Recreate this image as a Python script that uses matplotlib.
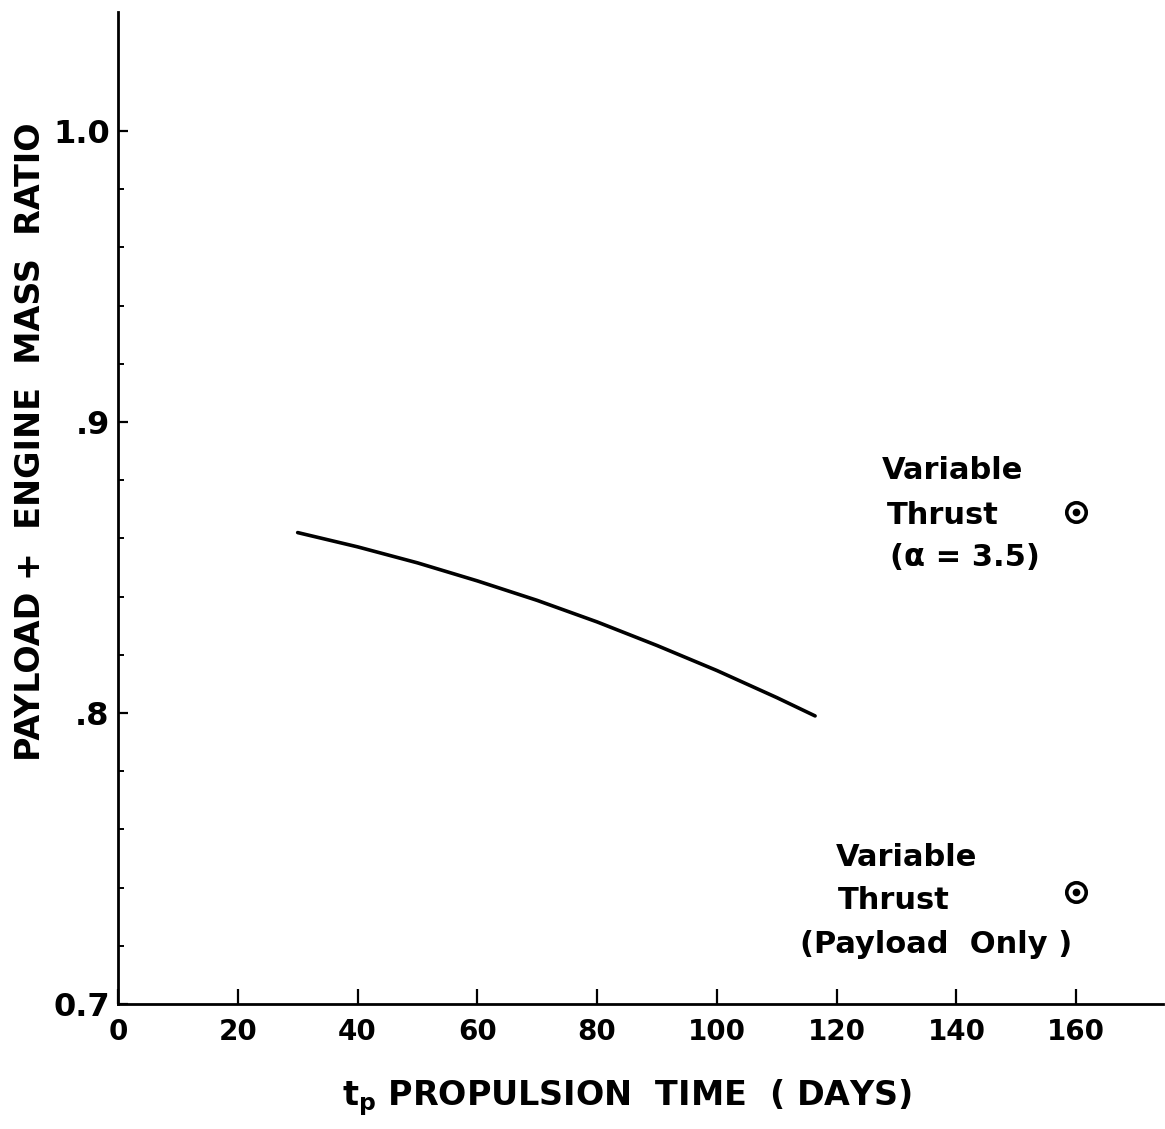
import matplotlib
matplotlib.use('Agg')
import matplotlib.pyplot as plt
from matplotlib.ticker import FixedLocator, FixedFormatter

# curve: propulsion time (days) vs mass ratio
t_days = [30, 40, 50, 60, 70, 80, 90, 100, 110, 116.4]
mass_ratio = [0.862, 0.8571, 0.8516, 0.8454, 0.8387, 0.8313, 0.8232, 0.8146, 0.8053, 0.799]

# variable thrust reference points
vt_days = [160, 160]
vt_ratio = [0.869, 0.7385]

xticks = [0, 20, 40, 60, 80, 100, 120, 140, 160]
yticks = [0.7, 0.8, 0.9, 1.0]
ytick_labels = ['0.7', '.8', '.9', '1.0']
yminor = [0.72, 0.74, 0.76, 0.78, 0.82, 0.84, 0.86, 0.88, 0.92, 0.94, 0.96, 0.98]

plt.rcParams['font.family'] = ['DejaVu Sans']
plt.rcParams['mathtext.default'] = 'regular'

fig = plt.figure(figsize=(11.65, 11.29), dpi=100)
ax = fig.add_axes([0.1013, 0.1107, 0.897, 0.8787])

ax.plot(t_days, mass_ratio, color='black', lw=2.6, solid_capstyle='round')

# circle-with-dot markers
ax.plot(vt_days, vt_ratio, 'o', ms=14, mfc='white', mec='black', mew=2.6, ls='none')
ax.plot(vt_days, vt_ratio, 'o', ms=4.5, color='black', ls='none')

ax.set_xlim(0, 174.5)
ax.set_ylim(0.7, 1.0409)

ax.spines['right'].set_visible(False)
ax.spines['top'].set_visible(False)
ax.spines['left'].set_linewidth(2)
ax.spines['bottom'].set_linewidth(2)

ax.xaxis.set_major_locator(FixedLocator(xticks))
ax.yaxis.set_major_locator(FixedLocator(yticks))
ax.yaxis.set_major_formatter(FixedFormatter(ytick_labels))
ax.yaxis.set_minor_locator(FixedLocator(yminor))

ax.tick_params(axis='x', which='major', direction='in', length=11, width=1.6,
               pad=10, labelsize=20)
ax.tick_params(axis='y', which='major', direction='in', length=7, width=1.6,
               pad=6, labelsize=23)
ax.tick_params(axis='y', which='minor', direction='in', length=4, width=1.4)
for lab in ax.get_xticklabels() + ax.get_yticklabels():
    lab.set_fontweight('bold')

# annotations next to the points
tkw = dict(fontsize=22, fontweight='bold', va='center', ha='left')
ax.text(127.5, 0.8835, 'Variable', **tkw)
ax.text(128.4, 0.868, 'Thrust', **tkw)
ax.text(128.9, 0.8533, '(\u03b1 = 3.5)', **tkw)
ax.text(119.9, 0.7502, 'Variable', **tkw)
ax.text(120.2, 0.7357, 'Thrust', **tkw)
ax.text(113.9, 0.7203, '(Payload  Only )', **tkw)

fig.text(0.0258, 0.609, 'PAYLOAD +  ENGINE  MASS  RATIO', rotation=90,
         ha='center', va='center', fontsize=24, fontweight='bold')
fig.text(0.538, 0.0275, 't$_p$ PROPULSION  TIME  ( DAYS)',
         ha='center', va='center', fontsize=24, fontweight='bold')

plt.savefig('out.png', dpi=100)
